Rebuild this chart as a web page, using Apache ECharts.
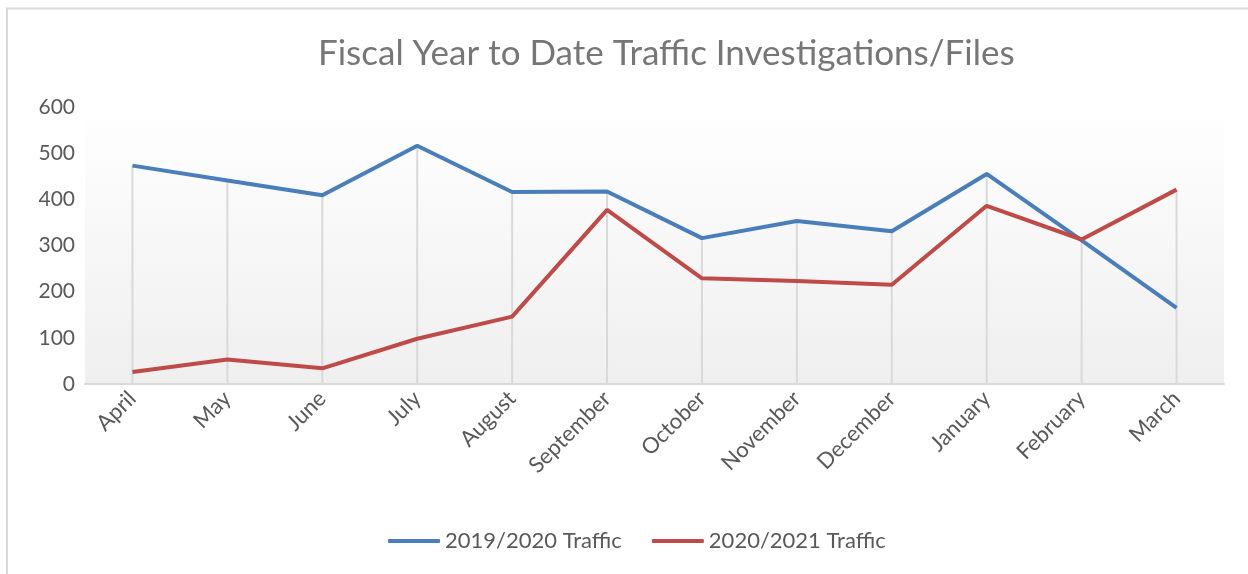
<!DOCTYPE html>
<html>
<head>
<meta charset="utf-8">
<script src="https://cdn.jsdelivr.net/npm/echarts@6/dist/echarts.min.js"></script>
<style>
html,body{margin:0;padding:0;background:#fff;}
#chart{width:1248px;height:574px;}
</style>
</head>
<body>
<div id="chart"></div>
<script>
const months = ['April','May','June','July','August','September','October','November','December','January','February','March'];
const traffic2019 = [473, 441, 409, 516, 416, 417, 316, 353, 331, 455, 311, 165];
const traffic2020 = [26, 53, 34, 98, 146, 377, 229, 223, 215, 386, 313, 421];
const yTicks = [0, 100, 200, 300, 400, 500, 600];
const seriesNames = ['2019/2020 Traffic', '2020/2021 Traffic'];

const FONT = 'Lato, "Open Sans", sans-serif';
const chart = echarts.init(document.getElementById('chart'));

const dropData = months.map((m, i) => [i, traffic2019[i], traffic2020[i]]);

chart.setOption({
  animation: false,
  backgroundColor: '#fff',
  graphic: [{
    type: 'rect',
    shape: {x: 7, y: 8.5, width: 1260, height: 600},
    style: {fill: 'none', stroke: '#d9d9d9', lineWidth: 2},
    silent: true, z: -10
  }],
  title: {
    text: 'Fiscal Year to Date Traffic Investigations/Files',
    left: 313,
    top: 31,
    textStyle: {fontFamily: FONT, fontSize: 35, fontWeight: 'normal', color: '#767676'}
  },
  legend: {
    bottom: 17,
    left: 383,
    itemGap: 30,
    itemWidth: 52,
    itemHeight: 4,
    icon: 'roundRect',
    textStyle: {fontFamily: FONT, fontSize: 22, color: '#595959'},
    data: seriesNames
  },
  grid: {
    left: 85, right: 24, top: 107, bottom: 190,
    show: true,
    borderWidth: 0,
    backgroundColor: new echarts.graphic.LinearGradient(0, 0, 0, 1, [
      {offset: 0, color: '#ffffff'},
      {offset: 0.12, color: '#fdfdfd'},
      {offset: 1, color: '#efefef'}
    ])
  },
  xAxis: {
    type: 'category',
    data: months,
    boundaryGap: true,
    axisLine: {lineStyle: {color: '#d9d9d9', width: 2}},
    axisTick: {show: false},
    axisLabel: {
      rotate: 45, color: '#595959', fontFamily: FONT, fontSize: 22,
      margin: 11, interval: 0
    },
    splitLine: {show: false}
  },
  yAxis: {
    type: 'value',
    min: 0, max: 600, interval: 100,
    axisLine: {show: false},
    axisTick: {show: false},
    splitLine: {show: false},
    axisLabel: {
      color: '#595959', fontFamily: FONT, fontSize: 21, margin: 10,
      formatter: v => yTicks.includes(v) ? String(v) : ''
    }
  },
  series: [
    {
      type: 'custom',
      silent: true,
      z: 1,
      data: dropData,
      renderItem: function (params, api) {
        const top = Math.max(api.value(1), api.value(2));
        const p1 = api.coord([api.value(0), top]);
        const p0 = api.coord([api.value(0), 0]);
        return {
          type: 'line',
          shape: {x1: p1[0], y1: p1[1], x2: p0[0], y2: p0[1]},
          style: {stroke: '#d9d9d9', lineWidth: 2}
        };
      }
    },
    {
      name: seriesNames[0],
      type: 'line',
      data: traffic2019,
      symbol: 'none',
      z: 3,
      lineStyle: {color: '#4a7ebb', width: 4},
      itemStyle: {color: '#4a7ebb'}
    },
    {
      name: seriesNames[1],
      type: 'line',
      data: traffic2020,
      symbol: 'none',
      z: 4,
      lineStyle: {color: '#be4b48', width: 4},
      itemStyle: {color: '#be4b48'}
    }
  ]
});
</script>
</body>
</html>
